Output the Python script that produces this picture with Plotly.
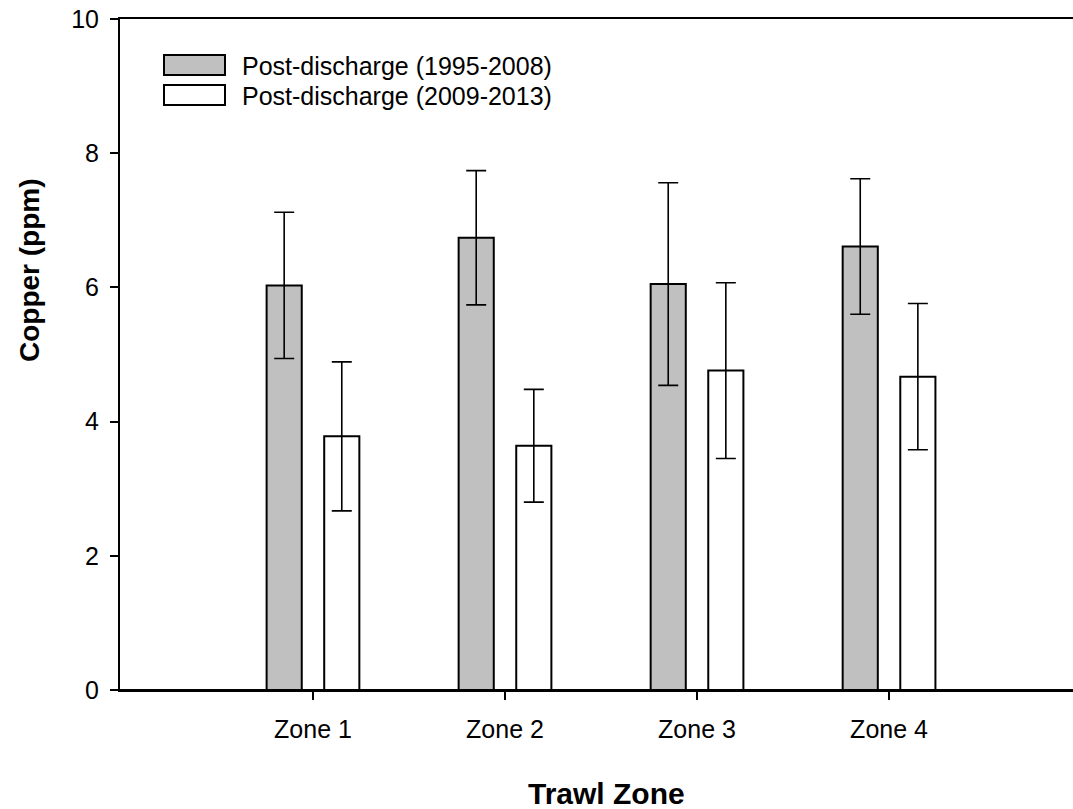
import plotly.graph_objects as go

zones = ["Zone 1", "Zone 2", "Zone 3", "Zone 4"]
series_names = ["Post-discharge (1995-2008)", "Post-discharge (2009-2013)"]
early_mean = [6.03, 6.74, 6.05, 6.61]
early_err = [1.09, 1.00, 1.51, 1.01]
late_mean = [3.78, 3.64, 4.76, 4.67]
late_err = [1.11, 0.84, 1.31, 1.09]
y_ticks = [0, 2, 4, 6, 8, 10]

W, H = 1073, 809
L, R, T, B = 120, 0, 19, 119
FONT = "Arial, Liberation Sans, sans-serif"
fills = ["#c0c0c0", "#ffffff"]

fig = go.Figure()
for name, vals, errs, fc in zip(series_names, [early_mean, late_mean], [early_err, late_err], fills):
    fig.add_trace(go.Bar(
        x=zones, y=vals, name=name,
        marker=dict(color=fc, line=dict(color="black", width=2)),
        error_y=dict(type="data", array=errs, visible=True, color="black", thickness=1.6, width=10),
        showlegend=False,
    ))

pw = W - L - R
ph = H - T - B


def px_x(p):
    return (p - L) / pw


def px_y(p):
    return 1 - (p - T) / ph


shapes = [dict(type="line", xref="paper", yref="paper", x0=0, x1=1, y0=0, y1=0,
               line=dict(color="black", width=2), layer="above")]
annotations = []
legend_rows = [(55, 75), (85, 105)]
for (y0, y1), name, fc in zip(legend_rows, series_names, fills):
    shapes.append(dict(type="rect", xref="paper", yref="paper",
                       x0=px_x(164), x1=px_x(225), y0=px_y(y1), y1=px_y(y0),
                       fillcolor=fc, line=dict(color="black", width=2)))
    annotations.append(dict(xref="paper", yref="paper", x=px_x(240), y=px_y((y0 + y1) / 2 + 1),
                            text=name, showarrow=False, xanchor="left", yanchor="middle",
                            font=dict(family=FONT, size=25, color="black")))

# axis titles
annotations.append(dict(xref="paper", yref="paper", x=px_x(606), y=px_y(793),
                        text="<b>Trawl Zone</b>", showarrow=False, xanchor="center", yanchor="middle",
                        font=dict(family=FONT, size=30, color="black")))
annotations.append(dict(xref="paper", yref="paper", x=px_x(29), y=px_y(270),
                        text="<b>Copper (ppm)</b>", showarrow=False, textangle=-90,
                        xanchor="center", yanchor="middle",
                        font=dict(family=FONT, size=28, color="black")))

fig.update_layout(
    width=W, height=H,
    margin=dict(l=L, r=R, t=T, b=B),
    plot_bgcolor="white", paper_bgcolor="white",
    barmode="group", bargap=0.4, bargroupgap=0.39,
    font=dict(family=FONT, size=25, color="black"),
    shapes=shapes, annotations=annotations,
    xaxis=dict(
        range=[-1.005, 3.958], showline=True, linecolor="black", linewidth=2, mirror=True,
        ticks="outside", ticklen=8, tickwidth=1.5, tickcolor="black",
        showgrid=False, zeroline=False, ticklabelstandoff=8, automargin=False,
        tickfont=dict(size=25),
    ),
    yaxis=dict(
        range=[0, 10], tickvals=y_ticks, showline=True, linecolor="black", linewidth=2,
        ticks="outside", ticklen=8, tickwidth=1.5, tickcolor="black",
        showgrid=False, zeroline=False, ticklabelstandoff=6, automargin=False,
        tickfont=dict(size=25),
    ),
)

fig.write_html("out.html", config={"displayModeBar": False},
               post_script="document.body.style.margin='0';document.body.style.overflow='hidden';")
